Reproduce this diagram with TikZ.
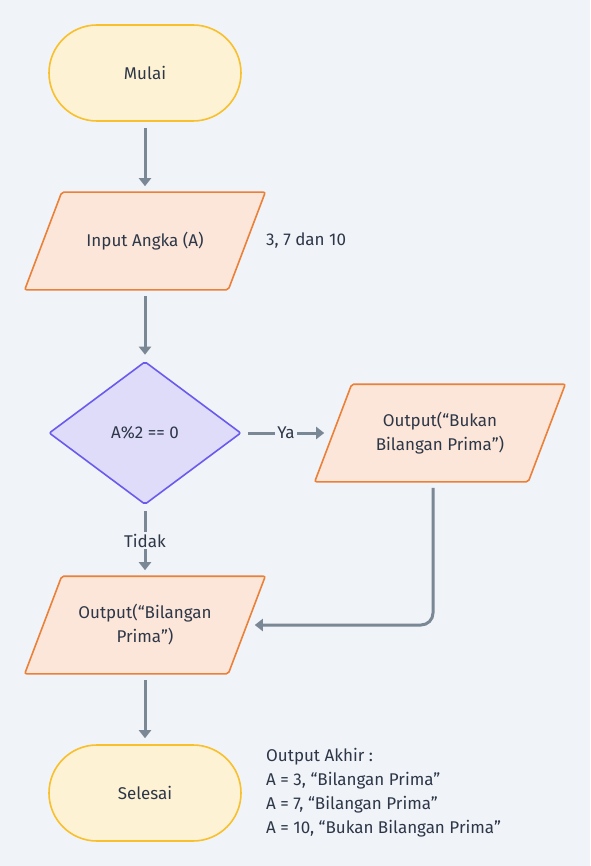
\documentclass[tikz,border=0pt]{standalone}
\usepackage{fontspec}
\setmainfont{Fira Sans}
\usetikzlibrary{arrows.meta,shapes.geometric,backgrounds}
\definecolor{bgpaper}{HTML}{F0F3F7}
\definecolor{ink}{HTML}{2D3748}
\definecolor{linkgray}{HTML}{7A8794}
\definecolor{termfill}{HTML}{FEF2D4}
\definecolor{termdraw}{HTML}{F8C02C}
\definecolor{iofill}{HTML}{FCE6D9}
\definecolor{iodraw}{HTML}{EB8038}
\definecolor{decfill}{HTML}{DFDCFA}
\definecolor{decdraw}{HTML}{6A5AEE}
\tikzset{
  base/.style={font=\fontsize{17}{24}\selectfont,text=ink,align=center,
    line width=1.6pt},
  terminal/.style={base,rectangle,rounded corners=48pt,draw=termdraw,
    fill=termfill,minimum width=192pt,minimum height=96pt},
  iobox/.style={base,rectangle,minimum width=202pt,minimum height=96pt,
    inner sep=0pt},
  ioshape/.style={draw=iodraw,fill=iofill,line width=1.6pt,
    rounded corners=2pt},
  decision/.style={base,diamond,draw=decdraw,fill=decfill,
    minimum width=192pt,minimum height=143pt,inner sep=0pt,
    rounded corners=2pt},
  flow/.style={-{Triangle[length=8pt,width=12pt]},draw=linkgray,
    line width=3pt},
  flowlabel/.style={font=\fontsize{17}{24}\selectfont,text=ink,
    fill=bgpaper,inner sep=2pt},
  note/.style={font=\fontsize{17}{24}\selectfont,text=ink,align=left,
    anchor=west,inner sep=0pt},
}
\begin{document}
\begin{tikzpicture}[x=1pt,y=-1pt]
\begin{scope}[on background layer]
\fill[bgpaper] (0,0) rectangle (590,866);
\end{scope}
\useasboundingbox (0,0) rectangle (590,866);

\node[terminal] (start) at (145,73) {Mulai};
\node[iobox] (input) at (145,241) {Input Angka (A)};
\node[note] (inputnote) at (266,241) {3, 7 dan 10};
\node[decision] (check) at (145,433) {A\%2 == 0};
\node[iobox,minimum width=212pt] (notprime) at (440,433)
  {Output(“Bukan\\Bilangan Prima”)};
\node[iobox] (prime) at (145,625) {Output(“Bilangan\\Prima”)};
\node[terminal] (finish) at (145,793) {Selesai};
\node[note] (result) at (266,793)
  {Output Akhir :\\A = 3, “Bilangan Prima”\\A = 7, “Bilangan Prima”\\A = 10, “Bukan Bilangan Prima”};

% slanted input/output boxes
\begin{scope}[on background layer]
\foreach \n in {input,notprime,prime}
  \draw[ioshape] ([xshift=18.5pt]\n.north west) -- ([xshift=18.5pt]\n.north east)
    -- ([xshift=-18.5pt]\n.south east) -- ([xshift=-18.5pt]\n.south west) -- cycle;
\end{scope}

\draw[flow] ([yshift=-6pt]start.south) -- ([yshift=6pt]input.north);
\draw[flow] ([yshift=-6pt]input.south) -- ([yshift=6pt]check.north);
\draw[flow] ([xshift=6pt]check.east) --
  node[flowlabel] {Ya} ([xshift=-9pt]notprime.west);
\draw[flow] ([yshift=-6pt]check.south) --
  node[flowlabel] {Tidak} ([yshift=6pt]prime.north);
\draw[flow,rounded corners=12pt] ([xshift=-7pt,yshift=-6pt]notprime.south)
  |- ([xshift=8pt]prime.east);
\draw[flow] ([yshift=-6pt]prime.south) -- ([yshift=6pt]finish.north);
\end{tikzpicture}
\end{document}
